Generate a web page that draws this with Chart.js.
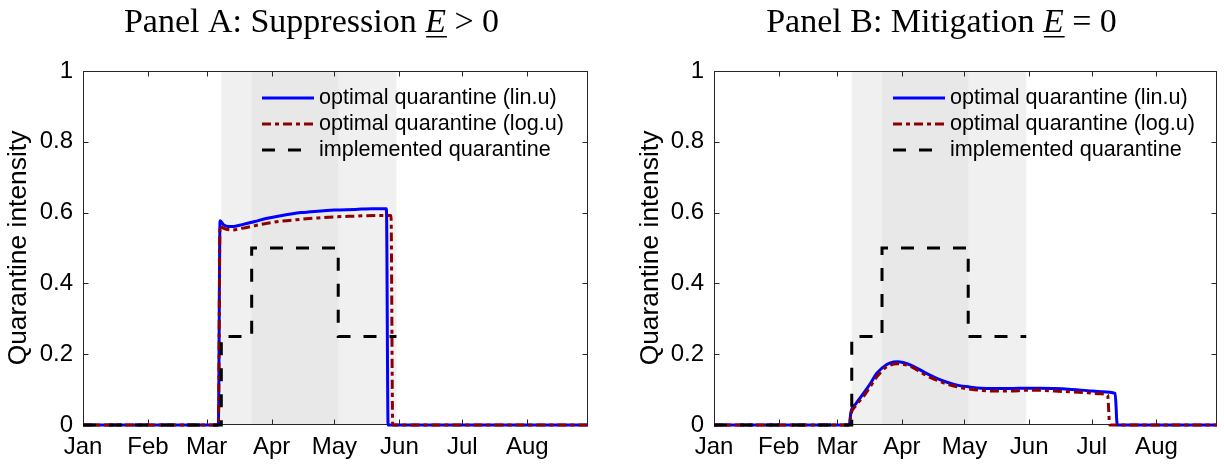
<!DOCTYPE html>
<html>
<head>
<meta charset="utf-8">
<title>Optimal vs implemented quarantine</title>
<script src="https://cdn.jsdelivr.net/npm/chart.js@4.4.1/dist/chart.umd.min.js"></script>
<style>
  body { margin: 0; background: #fff; }
  #wrap { position: relative; width: 1224px; height: 466px; }
  canvas { position: absolute; top: 0; }
</style>
</head>
<body>
<div id="wrap">
  <canvas id="panelA" width="612" height="466" style="left:0"></canvas>
  <canvas id="panelB" width="612" height="466" style="left:612px"></canvas>
</div>
<script>
// days counted from 1 January
const monthDays = [0, 31, 59, 90, 120, 151, 181, 212];
const monthLabels = ["Jan", "Feb", "Mar", "Apr", "May", "Jun", "Jul", "Aug"];
const yTicks = [0, 0.2, 0.4, 0.6, 0.8, 1];
const lastDay = 241;

// shaded quarantine phases
const lightPhase = [66, 149.6];
const darkPhase = [80.5, 121.8];

// implemented quarantine (same in both panels)
const implDays = [0, 66, 66, 80.5, 80.5, 121.8, 121.8, 149.6];
const implVals = [0, 0, 0.25, 0.25, 0.5, 0.5, 0.25, 0.25];

// Panel A: suppression
const linDaysA = [0, 64.6, 65.4, 67, 69, 72, 76, 82, 88, 95, 104, 112, 120, 130, 138, 144.8, 145.6, 241];
const linValsA = [0, 0, 0.577, 0.566, 0.561, 0.561, 0.566, 0.575, 0.584, 0.592, 0.600, 0.604, 0.607, 0.609, 0.611, 0.611, 0, 0];
const logDaysA = [0, 64.6, 65.4, 67, 71, 76, 82, 88, 95, 104, 112, 120, 130, 140, 147, 147.8, 241];
const logValsA = [0, 0, 0.563, 0.556, 0.551, 0.556, 0.563, 0.570, 0.576, 0.581, 0.585, 0.588, 0.590, 0.592, 0.592, 0, 0];

// Panel B: mitigation
const linDaysB = [0, 64.8, 65.6, 68, 71.6, 75, 78, 82.8, 86, 88, 91, 94, 98, 102, 107, 112, 117, 123, 128, 134, 142, 150, 157, 163, 170, 179, 186, 192.2, 193.2, 241];
const linValsB = [0, 0, 0.036, 0.060, 0.089, 0.118, 0.146, 0.171, 0.178, 0.179, 0.176, 0.170, 0.158, 0.145, 0.131, 0.120, 0.112, 0.107, 0.104, 0.103, 0.103, 0.104, 0.104, 0.103, 0.101, 0.097, 0.094, 0.089, 0, 0];
const logDaysB = [0, 64.8, 65.6, 68, 71.6, 75, 78, 82.8, 86, 88, 91, 94, 98, 102, 107, 112, 117, 123, 128, 134, 142, 150, 157, 163, 170, 179, 185, 188.6, 189.6, 241];
const logValsB = [0, 0, 0.030, 0.055, 0.080, 0.110, 0.136, 0.165, 0.172, 0.173, 0.171, 0.166, 0.153, 0.139, 0.126, 0.115, 0.107, 0.101, 0.098, 0.096, 0.096, 0.098, 0.098, 0.096, 0.094, 0.091, 0.088, 0.085, 0, 0];

const axisColor = "#262626";
const sansFont = '"Liberation Sans", Arial, sans-serif';
const serifFont = '"Liberation Serif", "Times New Roman", serif';

function toPoints(days, vals) {
	return days.map((d, i) => ({ x: d, y: vals[i] }));
}

const panelDecor = {
	id: "panelDecor",
	beforeDatasetsDraw(chart) {
		const { ctx, chartArea: a, scales: { x, y } } = chart;
		ctx.save();
		// shaded phases
		const l0 = x.getPixelForValue(lightPhase[0]), l1 = x.getPixelForValue(lightPhase[1]);
		const d0 = x.getPixelForValue(darkPhase[0]), d1 = x.getPixelForValue(darkPhase[1]);
		ctx.fillStyle = "#f0f0f0";
		ctx.fillRect(l0, a.top, l1 - l0, a.bottom - a.top);
		ctx.fillStyle = "#e8e8e8";
		ctx.fillRect(d0, a.top, d1 - d0, a.bottom - a.top);

		// box and inward ticks
		ctx.strokeStyle = axisColor;
		ctx.lineWidth = 1;
		const L = Math.round(a.left) + 0.5, R = Math.round(a.right) - 0.5;
		const T = Math.round(a.top) + 0.5, B = Math.round(a.bottom) - 0.5;
		ctx.strokeRect(L, T, R - L, B - T);
		ctx.beginPath();
		monthDays.forEach(d => {
			const px = Math.round(x.getPixelForValue(d)) + 0.5;
			ctx.moveTo(px, B); ctx.lineTo(px, B - 5);
			ctx.moveTo(px, T); ctx.lineTo(px, T + 5);
		});
		yTicks.forEach(v => {
			const py = Math.round(y.getPixelForValue(v)) + 0.5;
			ctx.moveTo(L, py); ctx.lineTo(L + 5, py);
			ctx.moveTo(R, py); ctx.lineTo(R - 5, py);
		});
		ctx.stroke();
		ctx.restore();
	},
	afterDatasetsDraw(chart) {
		// legend inside the plot
		const { ctx, chartArea: a } = chart;
		ctx.save();
		ctx.font = "21.6px " + sansFont;
		ctx.textBaseline = "middle";
		ctx.fillStyle = "#000";
		chart.data.datasets.forEach((ds, i) => {
			const yy = a.top + 27 + i * 26;
			ctx.beginPath();
			ctx.strokeStyle = ds.borderColor;
			ctx.lineWidth = ds.borderWidth;
			ctx.setLineDash(ds.borderDash || []);
			ctx.moveTo(a.left + 179, yy);
			ctx.lineTo(a.left + 231, yy);
			ctx.stroke();
			ctx.setLineDash([]);
			ctx.fillText(ds.label, a.left + 236, yy);
		});
		ctx.restore();
	},
	afterDraw(chart, args, opts) {
		// panel title with underlined italic E
		const { ctx, chartArea: a } = chart;
		const parts = opts.title;
		const regular = "34px " + serifFont;
		const italic = "italic 34px " + serifFont;
		ctx.save();
		ctx.fillStyle = "#000";
		ctx.textBaseline = "alphabetic";
		const widths = parts.map((p, i) => {
			ctx.font = i === 1 ? italic : regular;
			return ctx.measureText(p).width;
		});
		const total = widths.reduce((s, w) => s + w, 0);
		let cx = (a.left + a.right) / 2 - 24 - total / 2;
		const base = 32;
		parts.forEach((p, i) => {
			ctx.font = i === 1 ? italic : regular;
			ctx.fillText(p, cx, base);
			if (i === 1) {
				ctx.fillRect(cx + 1, base + 4, widths[i], 1.5);
			}
			cx += widths[i];
		});
		ctx.restore();
	}
};

function makePanel(id, linDays, linVals, logDays, logVals, title, padLeft, axisWidth, padRight) {
	const ctx = document.getElementById(id).getContext("2d");
	return new Chart(ctx, {
		type: "line",
		data: {
			datasets: [
				{
					label: "optimal quarantine (lin.u)",
					data: toPoints(linDays, linVals),
					borderColor: "#0000ff",
					borderWidth: 3,
					cubicInterpolationMode: "monotone",
					clip: 4,
					order: 3
				},
				{
					label: "optimal quarantine (log.u)",
					data: toPoints(logDays, logVals),
					borderColor: "#8c0000",
					borderWidth: 3,
					borderDash: [9, 4, 4, 4],
					cubicInterpolationMode: "monotone",
					clip: 4,
					order: 2
				},
				{
					label: "implemented quarantine",
					data: toPoints(implDays, implVals),
					borderColor: "#000000",
					borderWidth: 3,
					borderDash: [13, 13],
					tension: 0,
					clip: 4,
					order: 1
				}
			]
		},
		options: {
			responsive: false,
			animation: false,
			events: [],
			layout: { padding: { left: padLeft, top: 71, right: padRight, bottom: 0 } },
			elements: { point: { radius: 0 } },
			plugins: {
				legend: { display: false },
				tooltip: { enabled: false },
				panelDecor: { title: title }
			},
			scales: {
				x: {
					type: "linear",
					min: 0,
					max: lastDay,
					afterBuildTicks: (scale) => {
						scale.ticks = monthDays.map(v => ({ value: v }));
					},
					afterFit: (scale) => { scale.height = 41; },
					grid: { display: false, drawTicks: false },
					border: { display: false },
					ticks: {
						autoSkip: false,
						maxRotation: 0,
						padding: 8,
						color: "#000",
						font: { family: sansFont, size: 24 },
						callback: (v) => monthLabels[monthDays.indexOf(v)]
					}
				},
				y: {
					min: 0,
					max: 1,
					afterBuildTicks: (scale) => {
						scale.ticks = yTicks.map(v => ({ value: v }));
					},
					afterFit: (scale) => { scale.width = axisWidth; },
					grid: { display: false, drawTicks: false },
					border: { display: false },
					ticks: {
						padding: 10,
						color: "#000",
						font: { family: sansFont, size: 24 },
						callback: (v) => String(v)
					},
					title: {
						display: true,
						text: "Quarantine intensity",
						color: "#000",
						font: { family: sansFont, size: 26.4 },
						padding: { top: 3, bottom: 0 }
					}
				}
			}
		},
		plugins: [panelDecor]
	});
}

makePanel("panelA", linDaysA, linValsA, logDaysA, logValsA,
	["Panel A: Suppression ", "E", " > 0"], 0, 83, 24);
makePanel("panelB", linDaysB, linValsB, logDaysB, logValsB,
	["Panel B: Mitigation ", "E", " = 0"], 20, 82, 7);
</script>
</body>
</html>
